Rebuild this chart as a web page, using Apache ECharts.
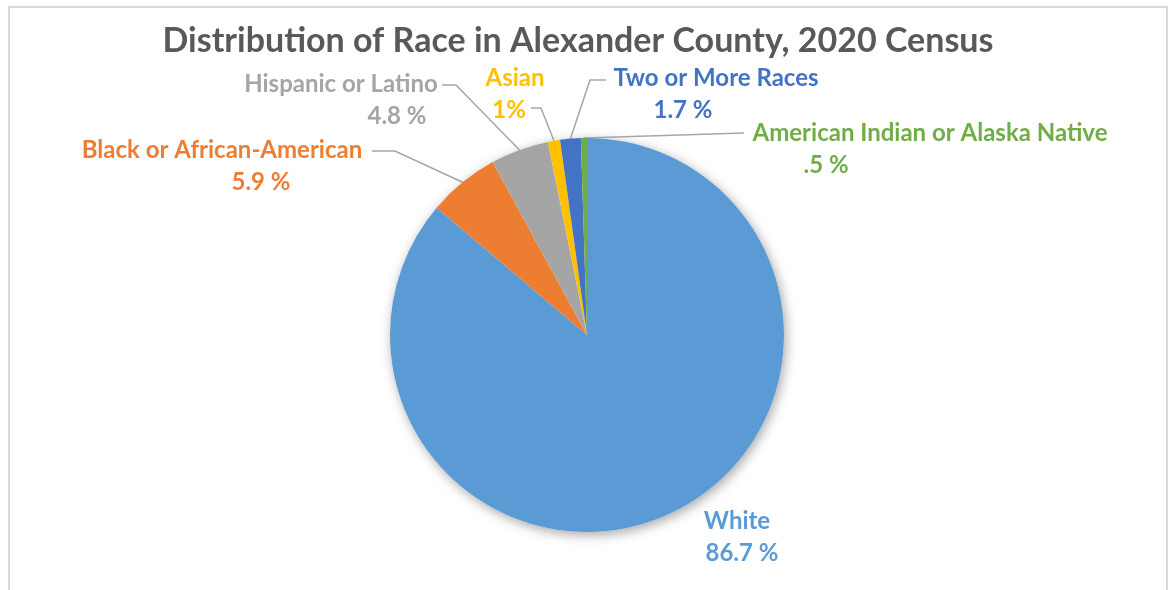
<!DOCTYPE html>
<html>
<head>
<meta charset="utf-8">
<title>Distribution of Race in Alexander County, 2020 Census</title>
<script src="https://cdn.jsdelivr.net/npm/echarts@6/dist/echarts.min.js"></script>
<style>
  html, body { margin: 0; padding: 0; background: #ffffff; }
  #chart { position: absolute; left: 0; top: 0; width: 1172px; height: 590px; }
  #frame { position: absolute; left: 8px; top: 6px; width: 1156px; height: 600px;
           border: 2px solid #d9d9d9; pointer-events: none; }
</style>
</head>
<body>
<div id="chart"></div>
<div id="frame"></div>
<script>
// Census 2020 shares, in percent
const categories = [
  'White',
  'Black or African-American',
  'Hispanic or Latino',
  'Asian',
  'Two or More Races',
  'American Indian or Alaska Native'
];
const percentages = [86.7, 5.9, 4.8, 1, 1.7, 0.5];
const percentSeparators = [' ', ' ', ' ', '', ' ', ' '];

const sliceColors = ['#5B9BD5', '#ED7D31', '#A5A5A5', '#FFC000', '#4472C4', '#70AD47'];

// Label block centre, horizontal shift of the value line, and leader line elbow/end points
const labelPlacement = [
  { x: 737, y: 537, shift: 5,    line: null },
  { x: 222, y: 166, shift: 39,   line: [[395, 151], [372, 151]] },
  { x: 341, y: 100, shift: 56,   line: [[456, 85], [442, 85]] },
  { x: 515, y: 94,  shift: -6,   line: [[541, 108], [531, 108]] },
  { x: 716, y: 94,  shift: -33,  line: [[590, 80], [606, 80]] },
  { x: 930, y: 149, shift: -104, line: [[744, 133]] }
];

const FONT = 'Lato, "Open Sans", sans-serif';
const PIE_CENTER = [587, 335];
const PIE_RADIUS = 197;

function formatPercent(v, i) {
  return String(v).replace(/^0\./, '.') + percentSeparators[i] + '%';
}

function labelFor(i) {
  const p = labelPlacement[i];
  const valueText = formatPercent(percentages[i], i);
  const line2 = p.shift >= 0
    ? '{s| }{v|' + valueText + '}'
    : '{v|' + valueText + '}{s| }';
  const base = {
    fontFamily: FONT, fontWeight: 'bold', fontSize: 24,
    color: sliceColors[i], align: 'center', lineHeight: 32
  };
  return {
    show: true,
    formatter: '{n|' + categories[i] + '}\n' + line2,
    rich: {
      n: base,
      v: base,
      s: Object.assign({}, base, { width: Math.abs(p.shift) * 2 })
    }
  };
}

const chart = echarts.init(document.getElementById('chart'), null, { renderer: 'canvas' });

chart.setOption({
  animation: false,
  backgroundColor: '#ffffff',
  title: {
    text: 'Distribution of Race in Alexander County, 2020 Census',
    left: 573,
    textAlign: 'center',
    top: 19,
    textStyle: {
      fontFamily: FONT,
      fontWeight: 'bold',
      fontSize: 34,
      color: '#595959'
    }
  },
  series: [
    {
      // soft drop shadow under the pie
      type: 'pie',
      silent: true,
      z: 1,
      center: PIE_CENTER,
      radius: PIE_RADIUS,
      label: { show: false },
      labelLine: { show: false },
      itemStyle: {
        color: '#ffffff',
        shadowBlur: 12,
        shadowColor: 'rgba(0,0,0,0.35)',
        shadowOffsetX: 2,
        shadowOffsetY: 3
      },
      data: [{ value: 1, name: '' }]
    },
    {
      type: 'pie',
      z: 2,
      center: PIE_CENTER,
      radius: PIE_RADIUS,
      startAngle: 90,
      clockwise: true,
      avoidLabelOverlap: false,
      emphasis: { disabled: true },
      itemStyle: { borderWidth: 0 },
      label: { show: true, position: 'outside' },
      labelLine: {
        show: true,
        smooth: false,
        lineStyle: { color: '#A6A6A6', width: 1.5 }
      },
      labelLayout: function (params) {
        const p = labelPlacement[params.dataIndex];
        const out = { x: p.x, y: p.y, align: 'center', verticalAlign: 'middle' };
        if (p.line && params.labelLinePoints) {
          out.labelLinePoints = [params.labelLinePoints[0]].concat(p.line);
        }
        return out;
      },
      data: categories.map(function (name, i) {
        return {
          name: name,
          value: percentages[i],
          itemStyle: { color: sliceColors[i] },
          label: labelFor(i),
          labelLine: { show: labelPlacement[i].line !== null }
        };
      })
    }
  ]
});
</script>
</body>
</html>
